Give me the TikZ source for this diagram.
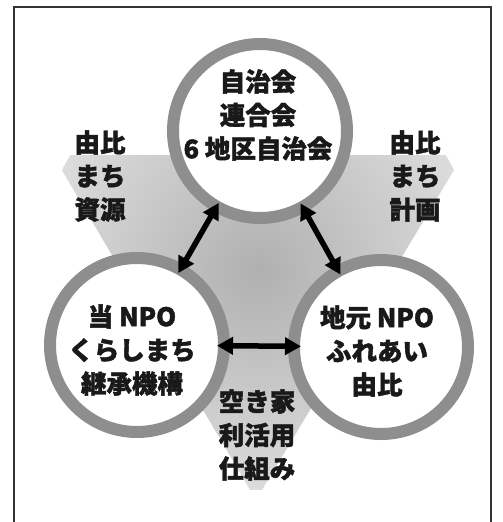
\documentclass[tikz,border=0pt]{standalone}
\usepackage{fontspec}
\newfontfamily\cjk{Noto Sans CJK JP}[BoldFeatures={FakeBold=1.6}]
\usetikzlibrary{arrows.meta,calc}
\begin{document}
\begin{tikzpicture}[x=1pt,y=-1pt,
  ring/.style={circle,draw=ringgray,line width=12pt,fill=white,minimum size=174pt,inner sep=0pt,outer sep=0pt},
  lbl/.style={font=\cjk\bfseries\fontsize{25.5}{33.5}\selectfont,align=center,text=black!90},
  dbl/.style={line width=5.5pt,{Triangle[length=16pt,width=17pt]}-{Triangle[length=16pt,width=17pt]}}]
\definecolor{ringgray}{HTML}{8E8E8E}
\definecolor{trilight}{HTML}{DCDCDC}
\definecolor{tridark}{HTML}{B0B0B0}
\useasboundingbox (0,0) rectangle (503,522);
% frame
\draw[line width=1.5pt,black!80] (14,522) -- (14,7) -- (491,7) -- (491,522);
% triangle
\coordinate (tl) at (53,155);
\coordinate (tr) at (463,155);
\coordinate (ap) at (256,500);
\begin{scope}
\clip (tl) -- (tr) -- (ap) -- cycle;
\shade[inner color=tridark,outer color=trilight] (258,270) circle (220pt);
\end{scope}
% circles
\node[ring] (top) at (260,131) {};
\node[ring] (left) at (137,345) {};
\node[ring] (right) at (381,347) {};
% arrows
\draw[dbl] ($(top)!83pt!(left)$) -- ($(left)!83pt!(top)$);
\draw[dbl] ($(top)!83pt!(right)$) -- ($(right)!83pt!(top)$);
\draw[dbl] ($(left)!80pt!(right)$) -- ($(right)!80pt!(left)$);
% texts
\node[lbl] (ttop) at (258,115) {自治会\\連合会\\6 地区自治会};
\node[lbl] (tleft) at (132,350) {当 NPO\\くらしまち\\継承機構};
\node[lbl] (tright) at (377,351) {地元 NPO\\ふれあい\\由比};
\node[lbl] (tsl) at (100,176) {由比\\まち\\資源};
\node[lbl] (tsr) at (415,176) {由比\\まち\\計画};
\node[lbl] (tbot) at (257,435) {空き家\\利活用\\仕組み};
\end{tikzpicture}
\end{document}
